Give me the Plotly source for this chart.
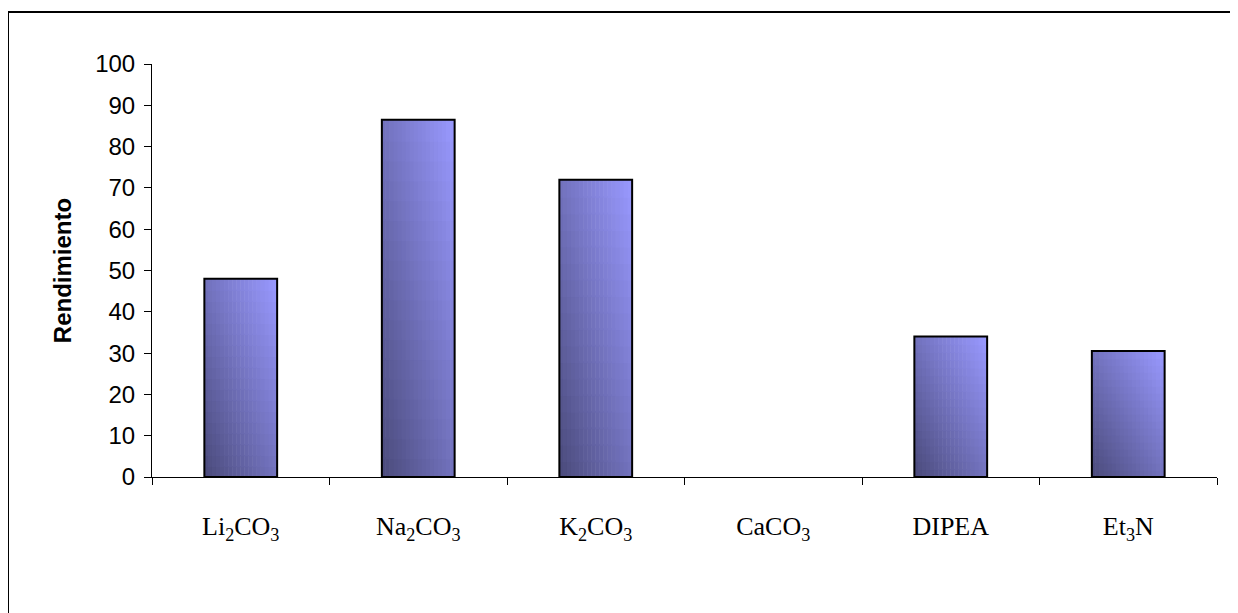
import plotly.graph_objects as go

# ---- data ----
categories = ["Li2CO3", "Na2CO3", "K2CO3", "CaCO3", "DIPEA", "Et3N"]
tick_labels = ["Li<sub>2</sub>CO<sub>3</sub>", "Na<sub>2</sub>CO<sub>3</sub>",
               "K<sub>2</sub>CO<sub>3</sub>", "CaCO<sub>3</sub>", "DIPEA",
               "Et<sub>3</sub>N"]
rendimiento = [48, 86.5, 72, 0, 34, 30.5]
y_ticks = [0, 10, 20, 30, 40, 50, 60, 70, 80, 90, 100]

# ---- style ----
BAR_W = 0.41
DARK = (74, 74, 122)
LIGHT = (153, 153, 255)
K, M = 18, 18  # gradient columns / rows


def mix(t):
    c = [round(a + (b - a) * t) for a, b in zip(DARK, LIGHT)]
    return f"rgb({c[0]},{c[1]},{c[2]})"


fig = go.Figure()

# gradient fill built from stacked slices of each bar (diagonal gradient)
col_w = BAR_W / K
for i in range(K):
    for j in range(M):
        t = ((i + 0.5) / K + (j + 0.5) / M) / 2
        ex = 0.003 if i > 0 else 0.0
        fy = 0.006 if j > 0 else 0.0
        fig.add_trace(go.Bar(
            x=categories,
            base=[v * (j / M - fy) for v in rendimiento],
            y=[v * (1 / M + fy) for v in rendimiento],
            width=col_w + ex,
            offset=-BAR_W / 2 + i * col_w - ex,
            marker=dict(color=mix(t), line=dict(width=0)),
            hoverinfo="skip",
            showlegend=False,
        ))

# outline of bars
fig.add_trace(go.Bar(
    x=categories,
    y=[v if v else None for v in rendimiento],
    width=BAR_W,
    offset=-BAR_W / 2,
    marker=dict(color="rgba(0,0,0,0)", line=dict(color="black", width=2)),
    hoverinfo="skip",
    showlegend=False,
))

fig.update_layout(
    template="none",
    barmode="overlay",
    width=1230,
    height=605,
    margin=dict(l=144, r=21, t=56, b=136),
    paper_bgcolor="white",
    plot_bgcolor="white",
    showlegend=False,
    xaxis=dict(
        type="category",
        tickmode="array",
        tickvals=categories,
        ticktext=tick_labels,
        tickson="boundaries",
        ticks="outside",
        ticklen=7,
        tickcolor="black",
        tickwidth=1,
        showline=True,
        linecolor="black",
        linewidth=1,
        showgrid=False,
        zeroline=False,
        ticklabelstandoff=26,
        tickfont=dict(family="Liberation Serif, Times New Roman, serif", size=26, color="black"),
    ),
    yaxis=dict(
        range=[0, 100],
        tickmode="array",
        tickvals=y_ticks,
        ticks="outside",
        ticklen=7,
        tickcolor="black",
        tickwidth=1,
        showline=True,
        linecolor="black",
        linewidth=1,
        showgrid=False,
        zeroline=False,
        ticklabelstandoff=4,
        tickfont=dict(family="Liberation Sans, Arial, sans-serif", size=24, color="black"),
        title=dict(text="<b>Rendimiento</b>", standoff=16,
                   font=dict(family="Liberation Sans, Arial, sans-serif", size=24, color="black")),
    ),
)

# outer chart border (extends beyond the right and bottom of the view)
fig.add_shape(type="rect", xref="paper", yref="paper",
              x0=(8 - 152) / 1065, x1=1.2, y0=-0.6, y1=(477 - 12) / 413,
              line=dict(color="black", width=2), fillcolor="rgba(0,0,0,0)", layer="below")

fig.write_html("out.html")
